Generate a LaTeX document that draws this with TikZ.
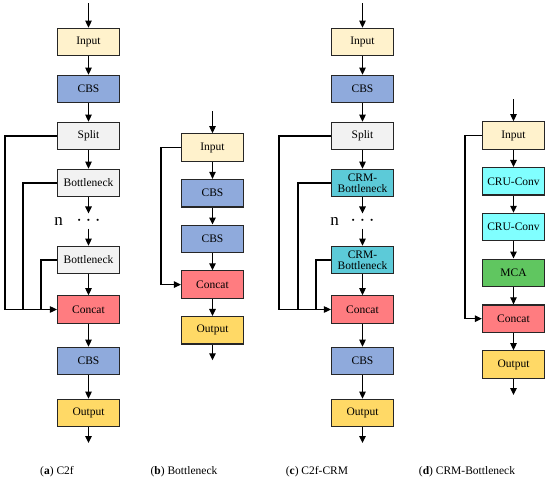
\documentclass[tikz,border=0pt]{standalone}
\usepackage{fontspec}
\setmainfont{Liberation Serif}
\usetikzlibrary{positioning,arrows.meta}

\definecolor{inputc}{HTML}{FFF2CC}
\definecolor{cbsc}{HTML}{8FAADC}
\definecolor{splitc}{HTML}{F2F2F2}
\definecolor{concatc}{HTML}{FF7C80}
\definecolor{outputc}{HTML}{FFD966}
\definecolor{crmc}{HTML}{5CCAD8}
\definecolor{cruc}{HTML}{80FFFF}
\definecolor{mcac}{HTML}{60C660}

\begin{document}
\begin{tikzpicture}[x=1pt,y=1pt,node distance=47pt,on grid,line width=1.1pt,
    >={Triangle[length=7pt,width=6.5pt]},
    block/.style={draw=black!85,line width=1.2pt,minimum width=62pt,minimum height=27.5pt,
      inner sep=1.5pt,align=center,font=\fontsize{11.5}{11.5}\selectfont},
    dotsbox/.style={minimum height=14pt,inner sep=0pt,font=\fontsize{22}{22}\selectfont},
    nlabel/.style={inner sep=0pt,font=\fontsize{17}{17}\selectfont},
    caption/.style={inner sep=0pt,font=\fontsize{11.5}{13}\selectfont}]
\useasboundingbox (0,0) rectangle (550,-482);

% (a) C2f
\node[block,fill=inputc] (in_a) at (88.5,-42) {Input};
\node[block,fill=cbsc] (cbs_a1) [below=of in_a] {CBS};
\node[block,fill=splitc] (split_a) [below=of cbs_a1] {Split};
\node[block,fill=splitc] (bn_a1) [below=of split_a] {Bottleneck};
\node[dotsbox] (dots_a) [below=38pt of bn_a1] {$\cdots$};
\node[nlabel] (n_a) [left=30pt of dots_a] {n};
\node[block,fill=splitc] (bn_a2) [below=39pt of dots_a] {Bottleneck};
\node[block,fill=concatc] (cat_a) [below=49.5pt of bn_a2] {Concat};
\node[block,fill=cbsc] (cbs_a2) [below=51.5pt of cat_a] {CBS};
\node[block,fill=outputc] (out_a) [below=52pt of cbs_a2] {Output};
\coordinate[above=39pt of in_a] (top_a);
\coordinate[below=30pt of out_a] (end_a);
\coordinate[left=83.5pt of cat_a] (j_a);
\path[->]
  (top_a) edge (in_a)
  (in_a) edge (cbs_a1)
  (cbs_a1) edge (split_a)
  (split_a) edge (bn_a1)
  (bn_a1) edge (dots_a)
  (dots_a) edge (bn_a2)
  (bn_a2) edge (cat_a)
  (cat_a) edge (cbs_a2)
  (cbs_a2) edge (out_a)
  (out_a) edge (end_a);
\draw[->] (split_a) -| (j_a) -- (cat_a);
\draw (bn_a1) -| ([xshift=18pt]j_a);
\draw (bn_a2) -| ([xshift=36pt]j_a);
\node[caption] (cap_a) at (57,-472) {(\textbf{a}) C2f};

% (b) Bottleneck
\begin{scope}[node distance=45.7pt]
\node[block,fill=inputc] (in_b) at (212.5,-147.5) {Input};
\node[block,fill=cbsc] (cbs_b1) [below=of in_b] {CBS};
\node[block,fill=cbsc] (cbs_b2) [below=of cbs_b1] {CBS};
\node[block,fill=concatc] (cat_b) [below=of cbs_b2] {Concat};
\node[block,fill=outputc] (out_b) [below=of cat_b] {Output};
\coordinate[above=36.5pt of in_b] (top_b);
\coordinate[below=30pt of out_b] (end_b);
\coordinate[left=51.5pt of cat_b] (j_b);
\path[->]
  (top_b) edge (in_b)
  (in_b) edge (cbs_b1)
  (cbs_b1) edge (cbs_b2)
  (cbs_b2) edge (cat_b)
  (cat_b) edge (out_b)
  (out_b) edge (end_b);
\draw[->] (in_b) -| (j_b) -- (cat_b);
\end{scope}
\node[caption] (cap_b) at (184,-472) {(\textbf{b}) Bottleneck};

% (c) C2f-CRM
\node[block,fill=inputc] (in_c) at (362.5,-42) {Input};
\node[block,fill=cbsc] (cbs_c1) [below=of in_c] {CBS};
\node[block,fill=splitc] (split_c) [below=of cbs_c1] {Split};
\node[block,fill=crmc] (bn_c1) [below=of split_c] {CRM-\\Bottleneck};
\node[dotsbox] (dots_c) [below=38pt of bn_c1] {$\cdots$};
\node[nlabel] (n_c) [left=28pt of dots_c] {n};
\node[block,fill=crmc] (bn_c2) [below=39pt of dots_c] {CRM-\\Bottleneck};
\node[block,fill=concatc] (cat_c) [below=49.5pt of bn_c2] {Concat};
\node[block,fill=cbsc] (cbs_c2) [below=51.5pt of cat_c] {CBS};
\node[block,fill=outputc] (out_c) [below=52pt of cbs_c2] {Output};
\coordinate[above=39pt of in_c] (top_c);
\coordinate[below=30pt of out_c] (end_c);
\coordinate[left=83.5pt of cat_c] (j_c);
\path[->]
  (top_c) edge (in_c)
  (in_c) edge (cbs_c1)
  (cbs_c1) edge (split_c)
  (split_c) edge (bn_c1)
  (bn_c1) edge (dots_c)
  (dots_c) edge (bn_c2)
  (bn_c2) edge (cat_c)
  (cat_c) edge (cbs_c2)
  (cbs_c2) edge (out_c)
  (out_c) edge (end_c);
\draw[->] (split_c) -| (j_c) -- (cat_c);
\draw (bn_c1) -| ([xshift=19pt]j_c);
\draw (bn_c2) -| ([xshift=37pt]j_c);
\node[caption] (cap_c) at (317,-472) {(\textbf{c}) C2f-CRM};

% (d) CRM-Bottleneck
\begin{scope}[node distance=45.8pt]
\node[block,fill=inputc] (in_d) at (513.5,-135.5) {Input};
\node[block,fill=cruc] (cru_d1) [below=of in_d] {CRU-Conv};
\node[block,fill=cruc] (cru_d2) [below=of cru_d1] {CRU-Conv};
\node[block,fill=mcac] (mca_d) [below=of cru_d2] {MCA};
\node[block,fill=concatc] (cat_d) [below=of mca_d] {Concat};
\node[block,fill=outputc] (out_d) [below=of cat_d] {Output};
\coordinate[above=36.5pt of in_d] (top_d);
\coordinate[below=30.5pt of out_d] (end_d);
\coordinate[left=48.5pt of cat_d] (j_d);
\path[->]
  (top_d) edge (in_d)
  (in_d) edge (cru_d1)
  (cru_d1) edge (cru_d2)
  (cru_d2) edge (mca_d)
  (mca_d) edge (cat_d)
  (cat_d) edge (out_d)
  (out_d) edge (end_d);
\draw[->] (in_d) -| (j_d) -- (cat_d);
\end{scope}
\node[caption] (cap_d) at (467,-472) {(\textbf{d}) CRM-Bottleneck};
\end{tikzpicture}
\end{document}
